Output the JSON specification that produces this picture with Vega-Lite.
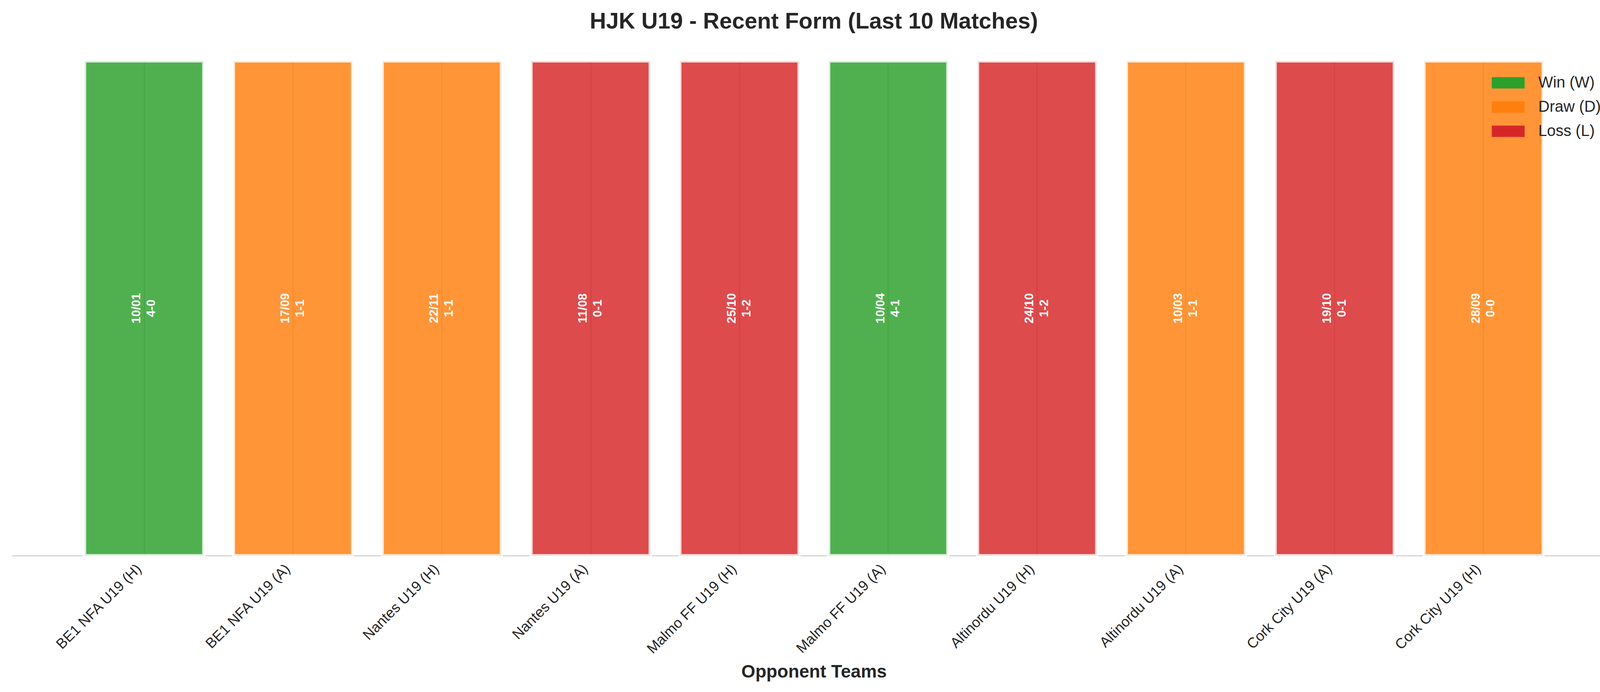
{
  "$schema": "https://vega.github.io/schema/vega-lite/v6.json",
  "autosize": {"type": "none"},
  "padding": {"left": 30, "top": 156, "right": 33, "bottom": 349},
  "width": 4107,
  "height": 1266,
  "background": "white",
  "config": {
    "font": "Liberation Sans",
    "view": {"stroke": null}
  },
  "title": {
    "text": "HJK U19 - Recent Form (Last 10 Matches)",
    "fontSize": 58,
    "fontWeight": "bold",
    "color": "#262626",
    "anchor": "middle",
    "baseline": "alphabetic",
    "offset": 21
  },
  "data": {
    "values": [
      {"opponent": "BE1 NFA U19 (H)", "result": "Win (W)", "date": "10/01", "score": "4-0", "height": 1},
      {"opponent": "BE1 NFA U19 (A)", "result": "Draw (D)", "date": "17/09", "score": "1-1", "height": 1},
      {"opponent": "Nantes U19 (H)", "result": "Draw (D)", "date": "22/11", "score": "1-1", "height": 1},
      {"opponent": "Nantes U19 (A)", "result": "Loss (L)", "date": "11/08", "score": "0-1", "height": 1},
      {"opponent": "Malmo FF U19 (H)", "result": "Loss (L)", "date": "25/10", "score": "1-2", "height": 1},
      {"opponent": "Malmo FF U19 (A)", "result": "Win (W)", "date": "10/04", "score": "4-1", "height": 1},
      {"opponent": "Altinordu U19 (H)", "result": "Loss (L)", "date": "24/10", "score": "1-2", "height": 1},
      {"opponent": "Altinordu U19 (A)", "result": "Draw (D)", "date": "10/03", "score": "1-1", "height": 1},
      {"opponent": "Cork City U19 (A)", "result": "Loss (L)", "date": "19/10", "score": "0-1", "height": 1},
      {"opponent": "Cork City U19 (H)", "result": "Draw (D)", "date": "28/09", "score": "0-0", "height": 1}
    ]
  },
  "encoding": {
    "x": {
      "field": "opponent",
      "type": "nominal",
      "sort": null,
      "scale": {"paddingInner": 0.2, "paddingOuter": 0.49},
      "axis": {
        "title": "Opponent Teams",
        "titleFontSize": 46,
        "titleFontWeight": "bold",
        "titleColor": "#262626",
        "titleBaseline": "alphabetic",
        "titleY": 311,
        "labelAngle": -45,
        "labelAlign": "right",
        "labelBaseline": "middle",
        "labelFontSize": 37,
        "labelColor": "#262626",
        "labelPadding": 28,
        "labelOffset": -13,
        "labelLimit": 0,
        "labelOverlap": false,
        "ticks": false,
        "domainColor": "#cccccc",
        "domainWidth": 2.5,
        "grid": true,
        "gridColor": "#cccccc",
        "gridWidth": 3,
        "bandPosition": 0.5
      }
    }
  },
  "layer": [
    {
      "mark": {
        "type": "bar",
        "fillOpacity": 0.83,
        "stroke": "white",
        "strokeWidth": 8,
        "strokeOpacity": 0.8
      },
      "encoding": {
        "y": {
          "field": "height",
          "type": "quantitative",
          "scale": {"domain": [0, 1], "nice": false},
          "axis": null
        },
        "color": {
          "field": "result",
          "type": "nominal",
          "scale": {
            "domain": ["Win (W)", "Draw (D)", "Loss (L)"],
            "range": ["#2ca02c", "#ff7f0e", "#d62728"]
          },
          "legend": {
            "title": null,
            "orient": "none",
            "legendX": 3789,
            "legendY": 14,
            "labelFontSize": 40,
            "labelColor": "#262626",
            "labelOffset": 35,
            "symbolType": "M-1,-0.345L1,-0.345L1,0.345L-1,0.345Z",
            "symbolSize": 7056,
            "symbolOpacity": 1,
            "symbolStrokeWidth": 0,
            "rowPadding": -26
          }
        }
      }
    },
    {
      "mark": {
        "type": "text",
        "angle": 270,
        "align": "center",
        "baseline": "middle",
        "dy": -19,
        "fontSize": 31,
        "fontWeight": "bold",
        "color": "white"
      },
      "encoding": {
        "y": {"datum": 0.5, "type": "quantitative"},
        "text": {"field": "date"}
      }
    },
    {
      "mark": {
        "type": "text",
        "angle": 270,
        "align": "center",
        "baseline": "middle",
        "dy": 19,
        "fontSize": 31,
        "fontWeight": "bold",
        "color": "white"
      },
      "encoding": {
        "y": {"datum": 0.5, "type": "quantitative"},
        "text": {"field": "score"}
      }
    }
  ]
}
